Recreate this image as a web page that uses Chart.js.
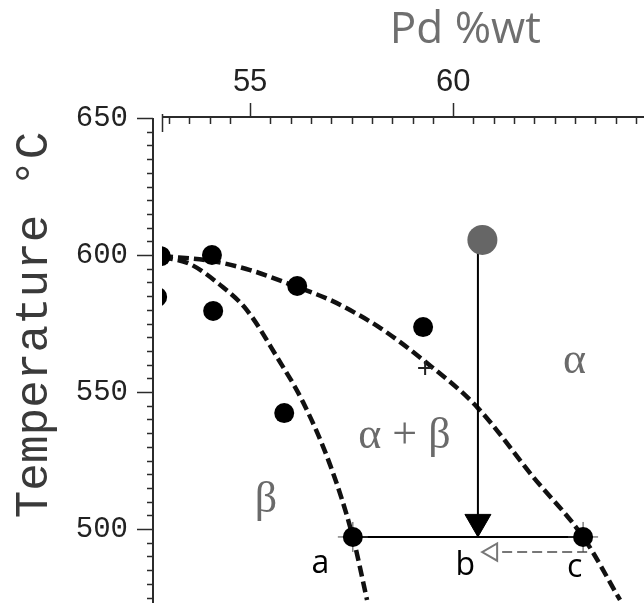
<!DOCTYPE html>
<html>
<head>
<meta charset="utf-8">
<script src="https://cdn.jsdelivr.net/npm/chart.js@4.4.1/dist/chart.umd.min.js"></script>
<style>
  html, body { margin: 0; padding: 0; background: #fff; }
  canvas { display: block; }
</style>
</head>
<body>
<canvas id="phaseChart" width="644" height="603"></canvas>
<script>
// axes: Pd wt% along the top, temperature on the left
const xMajorTicks = [55, 60];
const yMajorTicks = [500, 550, 600, 650];
const xMinorStep = 0.5;
const yMinorStep = 5;

// measured compositions (wt% Pd, °C)
const measuredPd   = [52.8, 52.71, 54.06, 54.09, 56.16, 55.84, 59.26, 57.53, 63.2];
const measuredTemp = [599.6, 584.7, 600, 579.6, 588.7, 542.3, 573.7, 497.1, 497.1];

// alpha solvus
const alphaPd   = [52.83, 54.06, 55.0, 56.16, 56.97, 57.46, 58.2, 59.26, 60.59, 61.97, 63.2, 64.11];
const alphaTemp = [599.6, 597.8, 594.5, 588.3, 583.6, 579.9, 573.4, 561.7, 544.5, 519.0, 497.1, 474.1];

// beta solvus
const betaPd   = [52.83, 53.52, 54.26, 54.92, 55.66, 56.30, 56.97, 57.53, 57.88];
const betaTemp = [599.3, 596.7, 589.1, 579.9, 562.8, 546.4, 523.4, 497.1, 474.1];

// alloy start point and its cooling path
const alloyPd = [60.72];
const alloyTemp = [605.5];
const coolPd = [60.61, 60.61];
const coolTemp = [605.5, 497.1];
const coolHeadPd = [60.61];
const coolHeadTemp = [502.6];

// tie line a - c
const tiePd = [57.53, 63.2];
const tieTemp = [497.1, 497.1];

// lever arrow c -> b
const leverPd = [63.3, 60.96];
const leverTemp = [491.6, 491.6];
const leverHeadPd = [60.96];
const leverHeadTemp = [491.6];

// small plus marks
const plusPd = [59.31];
const plusTemp = [558.8];
const endMarkPd = [57.53, 63.2];
const endMarkTemp = [497.1, 497.1];

// region / point labels, placed in data units
const labelText = ['α', 'α + β', 'β', 'a', 'b', 'c'];
const labelPd   = [62.99, 58.8, 55.39, 56.73, 60.3, 62.99];
const labelTemp = [556.9, 529.6, 506.2, 483.9, 483.2, 482.5];
const labelKind = ['greek', 'greek', 'greek', 'latin', 'latin', 'latin'];

const pts = (xs, ys) => xs.map((x, i) => ({ x, y: ys[i] }));

function stepTicks(scale, step) {
  const out = [];
  const start = Math.ceil(scale.min / step) * step;
  for (let v = start; v <= scale.max + 1e-9; v += step) out.push({ value: +v.toFixed(2) });
  scale.ticks = out;
}

// plot frame runs right up to the canvas edges, so drop the label overhang padding
function fixX(s) { s.height = 118; s.paddingLeft = 0; s.paddingRight = 0; }
function fixY(s) { s.width = 162; s.paddingTop = 0; s.paddingBottom = 0; }

const axisMarks = {
  id: 'axisMarks',
  afterDraw(chart) {
    const { ctx, chartArea: area, scales: { x, y } } = chart;
    ctx.save();
    ctx.strokeStyle = '#2b2b2b';

    // top axis line and ticks (minor point down, labelled ones point up)
    ctx.lineWidth = 2;
    ctx.beginPath();
    ctx.moveTo(area.left, area.top - 1);
    ctx.lineTo(area.right, area.top - 1);
    ctx.stroke();
    ctx.lineWidth = 1.5;
    x.ticks.forEach(t => {
      const px = Math.round(x.getPixelForValue(t.value)) + 0.5;
      ctx.beginPath();
      if (xMajorTicks.includes(t.value)) {
        ctx.moveTo(px, area.top - 15);
        ctx.lineTo(px, area.top);
      } else {
        ctx.moveTo(px, area.top - 1);
        ctx.lineTo(px, area.top + 6);
      }
      ctx.stroke();
    });
    // little stub of the frame at the top-left corner
    ctx.beginPath();
    ctx.moveTo(area.left + 0.5, area.top - 4);
    ctx.lineTo(area.left + 0.5, area.top + 14);
    ctx.stroke();

    // temperature axis sits just outside the frame
    const ax = area.left - 9;
    ctx.lineWidth = 2;
    ctx.beginPath();
    ctx.moveTo(ax, area.top);
    ctx.lineTo(ax, area.bottom);
    ctx.stroke();
    ctx.lineWidth = 1.5;
    y.ticks.forEach(t => {
      const py = Math.round(y.getPixelForValue(t.value)) + 0.5;
      const len = yMajorTicks.includes(t.value) ? 16 : 6;
      ctx.beginPath();
      ctx.moveTo(ax - len, py);
      ctx.lineTo(ax, py);
      ctx.stroke();
    });

    // axis titles
    ctx.fillStyle = '#6f6f6f';
    ctx.font = '44px "Open Sans"';
    ctx.textAlign = 'center';
    ctx.textBaseline = 'alphabetic';
    ctx.fillText('Pd %wt', x.getPixelForValue(60.3), 43);

    ctx.translate(47, 325);
    ctx.rotate(-Math.PI / 2);
    ctx.fillStyle = '#3a3a3a';
    ctx.font = '46px "Liberation Mono"';
    ctx.fillText('Temperature °C', 0, 0);
    ctx.restore();
  },
  afterDatasetsDraw(chart) {
    const { ctx, scales: { x, y } } = chart;
    ctx.save();
    ctx.textAlign = 'center';
    ctx.textBaseline = 'alphabetic';
    labelText.forEach((txt, i) => {
      if (labelKind[i] === 'greek') {
        ctx.font = '44px "Liberation Serif"';
        ctx.fillStyle = '#6a6a6a';
      } else {
        ctx.font = '32px "Open Sans"';
        ctx.fillStyle = '#000';
      }
      ctx.fillText(txt, x.getPixelForValue(labelPd[i]), y.getPixelForValue(labelTemp[i]));
    });
    ctx.restore();
  }
};

const curveStyle = {
  showLine: true, pointRadius: 0, borderColor: '#111', borderWidth: 4.5,
  borderDash: [11, 5], cubicInterpolationMode: 'monotone', fill: false
};

new Chart(document.getElementById('phaseChart'), {
  type: 'scatter',
  data: {
    datasets: [
      { label: 'measured', data: pts(measuredPd, measuredTemp), pointRadius: 10,
        backgroundColor: '#000', borderWidth: 0, clip: 0 },
      { label: 'alloy', data: pts(alloyPd, alloyTemp), pointRadius: 15,
        backgroundColor: '#666', borderWidth: 0 },
      { label: 'cool head', data: pts(coolHeadPd, coolHeadTemp), pointStyle: 'triangle',
        rotation: 180, pointRadius: 15, backgroundColor: '#000', borderColor: '#000', borderWidth: 1 },
      { label: 'lever head', data: pts(leverHeadPd, leverHeadTemp), pointStyle: 'triangle',
        rotation: 270, pointRadius: 10, backgroundColor: '#fff', borderColor: '#777', borderWidth: 2 },
      { label: 'plus', data: pts(plusPd, plusTemp), pointStyle: 'cross', pointRadius: 7,
        borderColor: '#222', borderWidth: 2 },
      { label: 'ends', data: pts(endMarkPd, endMarkTemp), pointStyle: 'cross', pointRadius: 15,
        borderColor: '#444', borderWidth: 1 },
      { label: 'cooling', data: pts(coolPd, coolTemp), showLine: true, pointRadius: 0,
        borderColor: '#000', borderWidth: 2 },
      { label: 'tie', data: pts(tiePd, tieTemp), showLine: true, pointRadius: 0,
        borderColor: '#000', borderWidth: 2 },
      { label: 'lever', data: pts(leverPd, leverTemp), showLine: true, pointRadius: 0,
        borderColor: '#777', borderWidth: 2, borderDash: [10, 5] },
      { label: 'alpha', data: pts(alphaPd, alphaTemp), ...curveStyle },
      { label: 'beta', data: pts(betaPd, betaTemp), ...curveStyle }
    ]
  },
  options: {
    responsive: false,
    animation: false,
    devicePixelRatio: 1,
    events: [],
    layout: { padding: 0, autoPadding: false },
    plugins: { legend: { display: false }, tooltip: { enabled: false } },
    scales: {
      x: {
        type: 'linear', position: 'top', min: 52.83, max: 64.7,
        grid: { display: false, drawTicks: false },
        border: { display: false },
        afterBuildTicks: s => stepTicks(s, xMinorStep),
        afterFit: fixX,
        ticks: {
          autoSkip: false, maxRotation: 0, padding: 17, color: '#222',
          font: { family: 'Liberation Sans', size: 31 },
          callback: v => xMajorTicks.includes(v) ? String(v) : ''
        }
      },
      y: {
        type: 'linear', min: 473, max: 650,
        grid: { display: false, drawTicks: false },
        border: { display: false },
        afterBuildTicks: s => stepTicks(s, yMinorStep),
        afterFit: fixY,
        ticks: {
          autoSkip: false, padding: 34, color: '#222',
          font: { family: 'Liberation Mono', size: 29 },
          callback: v => yMajorTicks.includes(v) ? String(v) : ''
        }
      }
    }
  },
  plugins: [axisMarks]
});
</script>
</body>
</html>
